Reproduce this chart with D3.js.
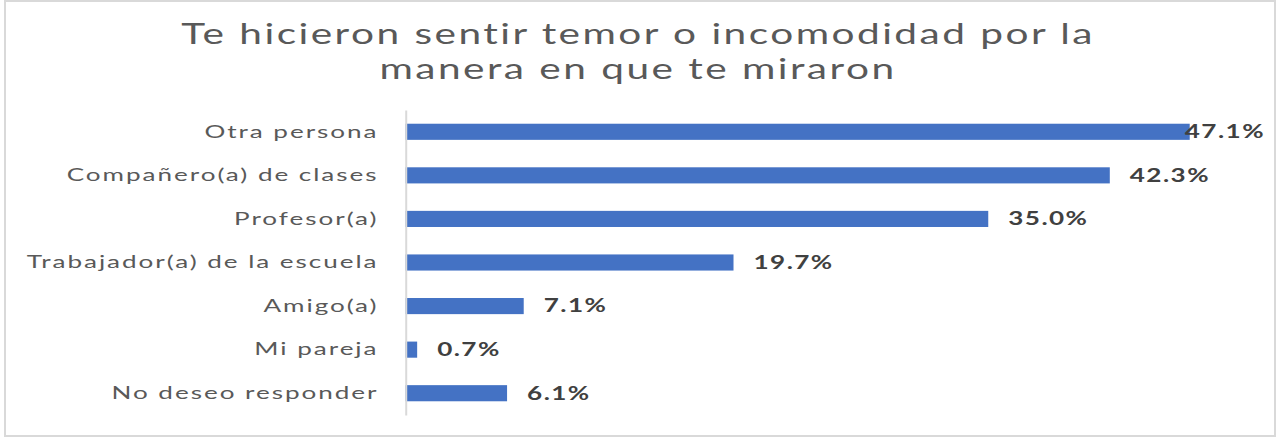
<!DOCTYPE html>
<html>
<head>
<meta charset="utf-8">
<script src="https://cdn.jsdelivr.net/npm/d3@7"></script>
<style>
  body { margin: 0; background: #fff; }
  svg { display: block; }
</style>
</head>
<body>
<svg id="chart"></svg>
<script>
// data
var categories = ["Otra persona", "Compañero(a) de clases", "Profesor(a)",
                  "Trabajador(a) de la escuela", "Amigo(a)", "Mi pareja", "No deseo responder"];
var values = [47.1, 42.3, 35.0, 19.7, 7.1, 0.7, 6.1];
var titleLines = ["Te hicieron sentir temor o incomodidad por la", "manera en que te miraron"];

var W = 1278, H = 439,
    stretch = 1.45,          // the source picture is squashed wide
    vw = W / stretch;

var svg = d3.select("#chart")
    .attr("width", W)
    .attr("height", H)
    .attr("viewBox", "0 0 " + vw + " " + H)
    .attr("preserveAspectRatio", "none");

// outer frame
svg.append("rect")
    .attr("x", 5 / stretch).attr("y", 1)
    .attr("width", 1270 / stretch).attr("height", 435)
    .attr("fill", "#fff")
    .attr("stroke", "#d9d9d9")
    .attr("stroke-width", 2)
    .attr("vector-effect", "non-scaling-stroke");

// title
svg.append("g").selectAll("text")
    .data(titleLines)
    .enter().append("text")
    .attr("x", 638 / stretch)
    .attr("y", function(d, i) { return 44 + i * 35; })
    .attr("text-anchor", "middle")
    .attr("font-family", "Lato, sans-serif")
    .attr("font-size", 28)
    .attr("letter-spacing", 1.7)
    .attr("fill", "#595959")
    .text(function(d) { return d; });

var x = d3.scaleLinear()
    .domain([0, 50])
    .range([405.5 / stretch, 1238 / stretch]);

var y = d3.scaleBand()
    .domain(categories)
    .range([110, 415])
    .paddingInner(0.63)
    .paddingOuter(0.315);

var data = categories.map(function(c, i) { return {cat: c, val: values[i]}; });

// bars
svg.append("g").selectAll("rect")
    .data(data)
    .enter().append("rect")
    .attr("x", x(0))
    .attr("y", function(d) { return y(d.cat); })
    .attr("width", function(d) { return x(d.val) - x(0); })
    .attr("height", y.bandwidth())
    .attr("fill", "#4472c4");

// category axis
var yAxis = svg.append("g")
    .attr("transform", "translate(" + x(0) + ",0)")
    .call(d3.axisLeft(y).tickSize(0).tickPadding(27 / stretch));

yAxis.select(".domain")
    .attr("stroke", "#d9d9d9")
    .attr("stroke-width", 2)
    .attr("vector-effect", "non-scaling-stroke");

yAxis.selectAll("text")
    .attr("font-family", "Lato, sans-serif")
    .attr("font-size", 18)
    .attr("letter-spacing", 1.35)
    .attr("fill", "#595959");

// value labels
var rightEdge = 1265 / stretch;
svg.append("g").selectAll("text")
    .data(data)
    .enter().append("text")
    .attr("x", function(d) { return x(d.val) + 20 / stretch; })
    .attr("y", function(d) { return y(d.cat) + y.bandwidth() / 2; })
    .attr("dy", "0.35em")
    .attr("font-family", "Lato, sans-serif")
    .attr("font-weight", "bold")
    .attr("font-size", 18)
    .attr("letter-spacing", 1)
    .attr("fill", "#404040")
    .text(function(d) { return d.val.toFixed(1) + "%"; })
    .each(function() {
      var t = d3.select(this), w = this.getComputedTextLength(), x0 = +t.attr("x");
      if (x0 + w > rightEdge) t.attr("x", rightEdge - w);
    });
</script>
</body>
</html>
